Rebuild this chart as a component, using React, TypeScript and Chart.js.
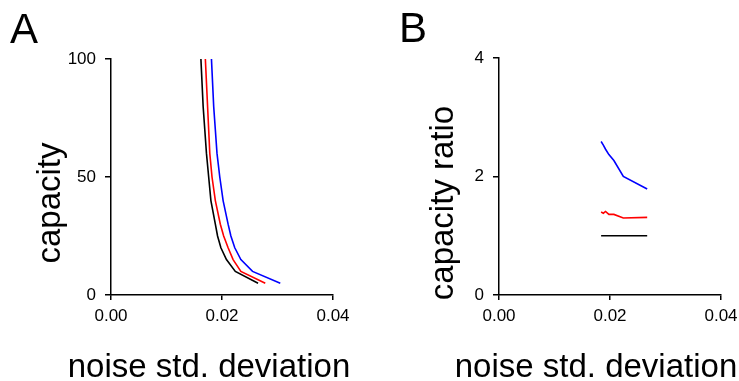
import React, { useEffect, useRef } from 'react';
import { Chart, registerables } from 'chart.js';

Chart.register(...registerables);

// Panel A: capacity vs noise std. deviation
const capacityLevels = [5, 10, 15, 20, 25, 30, 40, 50, 60, 70, 80, 90, 100];
const noiseBlack = [0.0265, 0.0224, 0.0208, 0.0198, 0.0192, 0.0188, 0.018, 0.0176, 0.0172, 0.0169, 0.0166, 0.0164, 0.0162];
const noiseRed = [0.0278, 0.0234, 0.022, 0.0211, 0.0203, 0.0197, 0.0188, 0.0182, 0.0178, 0.0176, 0.0174, 0.0172, 0.017];
const noiseBlue = [0.0305, 0.0255, 0.0234, 0.0223, 0.0216, 0.0211, 0.0202, 0.0196, 0.0191, 0.0188, 0.0185, 0.0183, 0.0181];

// Panel B: capacity ratio vs noise std. deviation
const ratioNoise = [0.0184, 0.0188, 0.0192, 0.0198, 0.0207, 0.0224, 0.0267];
const ratioBlack = [1, 1, 1, 1, 1, 1, 1];
const ratioRed = [1.4, 1.38, 1.41, 1.36, 1.36, 1.3, 1.31];
const ratioBlue = [2.59, 2.53, 2.46, 2.37, 2.27, 2.0, 1.79];

const xTicks = [0, 0.02, 0.04];
const capacityTicks = [0, 50, 100];
const ratioTicks = [0, 2, 4];

const FONT = '"Liberation Sans", Arial, Helvetica, sans-serif';

const toPoints = (xs: number[], ys: number[]) => xs.map((x, i) => ({ x, y: ys[i] }));

type Deco = {
  letter: string;
  letterX: number;
  letterY: number;
  yTitle: string;
  yTitleX: number;
  yTitleY: number;
  xTitle: string;
  xTitleX: number;
  xTitleY: number;
};

function decoPlugin(d: Deco) {
  return {
    id: 'deco',
    afterDraw(chart: any) {
      const ctx = chart.ctx;
      ctx.save();
      ctx.fillStyle = '#000';
      ctx.textBaseline = 'alphabetic';
      ctx.font = `42px ${FONT}`;
      ctx.textAlign = 'left';
      ctx.fillText(d.letter, d.letterX, d.letterY);
      ctx.font = `33px ${FONT}`;
      ctx.textAlign = 'center';
      ctx.fillText(d.xTitle, d.xTitleX, d.xTitleY);
      ctx.translate(d.yTitleX, d.yTitleY);
      ctx.rotate(-Math.PI / 2);
      ctx.fillText(d.yTitle, 0, 0);
      ctx.restore();
    },
  };
}

function makeLine(label: string, data: { x: number; y: number }[], color: string) {
  return {
    label,
    data,
    borderColor: color,
    backgroundColor: color,
    borderWidth: 1.6,
    pointRadius: 0,
    fill: false,
    tension: 0,
  };
}

function makeOptions(
  yMax: number,
  yStep: number,
  yTickVals: number[],
  left: number,
  right: number,
  top: number
) {
  return {
    responsive: false,
    animation: false as const,
    layout: { padding: { left: 0, right, top, bottom: 0 } },
    plugins: { legend: { display: false }, tooltip: { enabled: false }, title: { display: false } },
    scales: {
      x: {
        type: 'linear' as const,
        min: xTicks[0],
        max: xTicks[xTicks.length - 1],
        afterFit: (s: any) => {
          s.height = 86;
          s.paddingLeft = 0;
          s.paddingRight = 0;
        },
        afterBuildTicks: (s: any) => {
          s.ticks = xTicks.map((v) => ({ value: v }));
        },
        grid: { drawOnChartArea: false, drawTicks: true, tickLength: 5, color: '#000', lineWidth: 1.5 },
        border: { display: true, color: '#000', width: 1.5 },
        ticks: {
          color: '#000',
          font: { family: FONT, size: 17 },
          padding: 6,
          maxRotation: 0,
          callback: (v: any) => Number(v).toFixed(2),
        },
      },
      y: {
        type: 'linear' as const,
        min: 0,
        max: yMax,
        afterFit: (s: any) => {
          s.width = left;
          s.paddingTop = 0;
          s.paddingBottom = 0;
        },
        afterBuildTicks: (s: any) => {
          s.ticks = yTickVals.map((v) => ({ value: v }));
        },
        grid: { drawOnChartArea: false, drawTicks: true, tickLength: 6, color: '#000', lineWidth: 1.5 },
        border: { display: true, color: '#000', width: 1.5 },
        ticks: {
          color: '#000',
          stepSize: yStep,
          font: { family: FONT, size: 17 },
          padding: 9,
          callback: (v: any) => String(v),
        },
      },
    },
  };
}

function Panel(props: { config: any; left: number; width: number }) {
  const ref = useRef<HTMLCanvasElement | null>(null);
  useEffect(() => {
    if (!ref.current) return;
    const chart = new Chart(ref.current, props.config);
    return () => chart.destroy();
  }, []);
  return (
    <canvas
      ref={ref}
      width={props.width}
      height={381}
      style={{ position: 'absolute', left: props.left, top: 0, width: props.width, height: 381, display: 'block' }}
    />
  );
}

export default function App() {
  const configA = {
    type: 'line' as const,
    data: {
      datasets: [
        makeLine('black', toPoints(noiseBlack, capacityLevels), '#000000'),
        makeLine('red', toPoints(noiseRed, capacityLevels), '#ff0000'),
        makeLine('blue', toPoints(noiseBlue, capacityLevels), '#0000ff'),
      ],
    },
    options: makeOptions(100, 50, capacityTicks, 111, 37, 59),
    plugins: [
      decoPlugin({
        letter: 'A',
        letterX: 10,
        letterY: 43,
        yTitle: 'capacity',
        yTitleX: 60,
        yTitleY: 203,
        xTitle: 'noise std. deviation',
        xTitleX: 209,
        xTitleY: 377,
      }),
    ],
  };
  const configB = {
    type: 'line' as const,
    data: {
      datasets: [
        makeLine('black', toPoints(ratioNoise, ratioBlack), '#000000'),
        makeLine('red', toPoints(ratioNoise, ratioRed), '#ff0000'),
        makeLine('blue', toPoints(ratioNoise, ratioBlue), '#0000ff'),
      ],
    },
    options: makeOptions(4, 2, ratioTicks, 129, 18, 58),
    plugins: [
      decoPlugin({
        letter: 'B',
        letterX: 29,
        letterY: 42,
        yTitle: 'capacity ratio',
        yTitleX: 83,
        yTitleY: 203,
        xTitle: 'noise std. deviation',
        xTitleX: 226,
        xTitleY: 377,
      }),
    ],
  };
  return (
    <div style={{ position: 'fixed', left: 0, top: 0, width: 739, height: 381, background: '#fff' }}>
      <Panel config={configA} left={0} width={370} />
      <Panel config={configB} left={370} width={369} />
    </div>
  );
}
